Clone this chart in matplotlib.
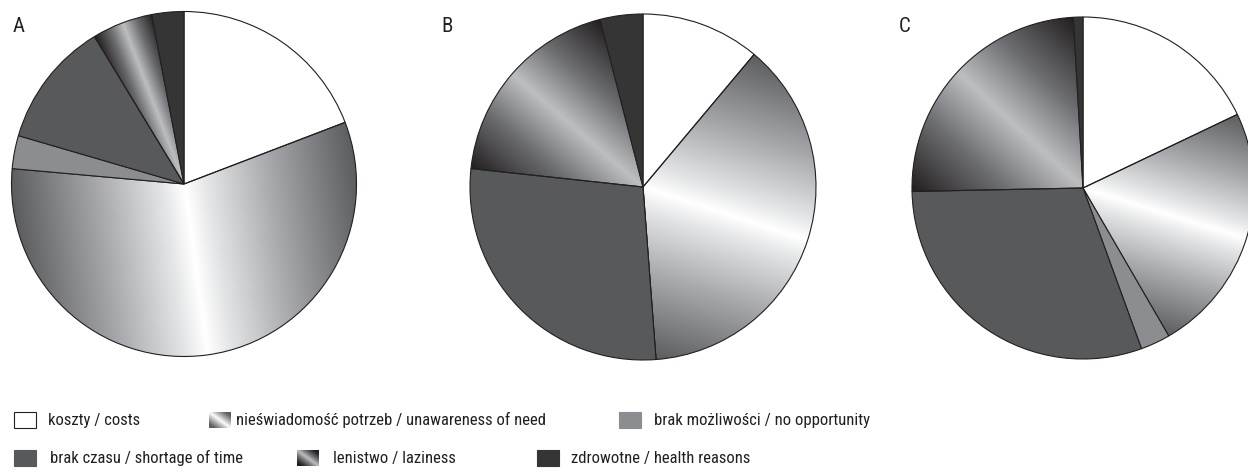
import numpy as np
import matplotlib
matplotlib.use("Agg")
import matplotlib.pyplot as plt
from matplotlib.colors import LinearSegmentedColormap
from matplotlib.patches import Rectangle

plt.rcParams['font.family'] = ['Liberation Sans Narrow', 'Roboto Condensed', 'DejaVu Sans']

W, H = 1248, 471

# share of answers (%) per reason, clockwise from 12 o'clock
reasons = ["koszty / costs",
           "nieświadomość potrzeb / unawareness of need",
           "brak możliwości / no opportunity",
           "brak czasu / shortage of time",
           "lenistwo / laziness",
           "zdrowotne / health reasons"]
panels = ["A", "B", "C"]
share_a = [19.2, 57.3, 3.1, 11.8, 5.7, 3.0]
share_b = [11.1, 37.7, 0.0, 27.9, 19.3, 4.0]
share_c = [17.9, 23.7, 2.8, 30.2, 24.4, 0.9]

# pie centre (px from left, px from top) and radius
pie_pos = [(184, 184, 172.5), (643, 187, 173), (1083, 188, 171)]
label_pos = [(13, 27), (441, 27), (899, 27)]

solid = {0: "#ffffff", 2: "#8c8d90", 3: "#58595b", 5: "#353535"}
grad_unaware = LinearSegmentedColormap.from_list(
    "unaware", [(0, "#ffffff"), (0.12, "#e6e7e8"), (0.5, "#a7a9ac"), (1, "#5c5d5f")])
grad_lazy = LinearSegmentedColormap.from_list(
    "lazy", [(0, "#bcbec0"), (0.45, "#6d6e71"), (1, "#231f20")])
grads = {1: grad_unaware, 4: grad_lazy}

fig = plt.figure(figsize=(W / 100, H / 100), dpi=100)
ax = fig.add_axes([0, 0, 1, 1])
ax.set_xlim(0, W)
ax.set_ylim(0, H)
ax.axis("off")


def shade_wedge(w, cx, cy, r, cmap):
    # linear gradient across the wedge, lightest along its bisector
    mid = np.deg2rad((w.theta1 + w.theta2) / 2)
    half = np.deg2rad((w.theta2 - w.theta1) / 2)
    nx, ny = -np.sin(mid), np.cos(mid)
    xs = np.linspace(cx - r, cx + r, 400)
    ys = np.linspace(cy - r, cy + r, 400)
    X, Y = np.meshgrid(xs, ys)
    d = np.abs((X - cx) * nx + (Y - cy) * ny) / r
    dmax = np.sin(min(half, np.pi / 2))
    t = np.clip(d / dmax, 0, 1)
    im = ax.imshow(t, cmap=cmap, vmin=0, vmax=1, origin="lower",
                   extent=(cx - r, cx + r, cy - r, cy + r),
                   interpolation="bilinear", zorder=0.5)
    im.set_clip_path(w)


for name, vals, (cx, cy_top, r), (lx, ly) in zip(
        panels, [share_a, share_b, share_c], pie_pos, label_pos):
    cy = H - cy_top
    wedges, _ = ax.pie(vals, center=(cx, cy), radius=r, startangle=90,
                       counterclock=False, normalize=True,
                       colors=[solid.get(i, "none") for i in range(len(vals))],
                       wedgeprops=dict(edgecolor="#231f20", linewidth=0.8))
    for i, w in enumerate(wedges):
        if i in grads and vals[i] > 0:
            shade_wedge(w, cx, cy, r, grads[i])
    ax.text(lx, H - ly, name, fontsize=15, color="#231f20",
            va="center", ha="left")

# legend: icon box and text position for each reason
icon_x = [14, 209, 619, 14, 297, 537]
text_x = [48, 236, 654, 50, 333, 571]
row_y = [420, 420, 420, 458, 458, 458]
iw, ih = 22, 16

for i, label in enumerate(reasons):
    x0, yc = icon_x[i], H - row_y[i]
    if i in grads:
        g = np.linspace(0, 1, 40)
        X, Y = np.meshgrid(g, g)
        diag = (X - (1 - Y))  # distance across the top-right/bottom-left diagonal
        t = np.clip(np.abs(diag) * 1.3, 0, 1)
        ax.imshow(t, cmap=grads[i], vmin=0, vmax=1, origin="lower",
                  extent=(x0, x0 + iw, yc - ih / 2, yc + ih / 2),
                  interpolation="bilinear", zorder=2)
    else:
        ec = "#231f20" if i == 0 else solid[i]
        ax.add_patch(Rectangle((x0, yc - ih / 2), iw, ih, facecolor=solid[i],
                               edgecolor=ec, linewidth=0.8, zorder=2))
    ax.text(text_x[i], yc, label, fontsize=12, color="#231f20",
            va="center", ha="left")

ax.set_xlim(0, W)
ax.set_ylim(0, H)
ax.set_aspect("auto")
fig.savefig("out.png", dpi=100)
